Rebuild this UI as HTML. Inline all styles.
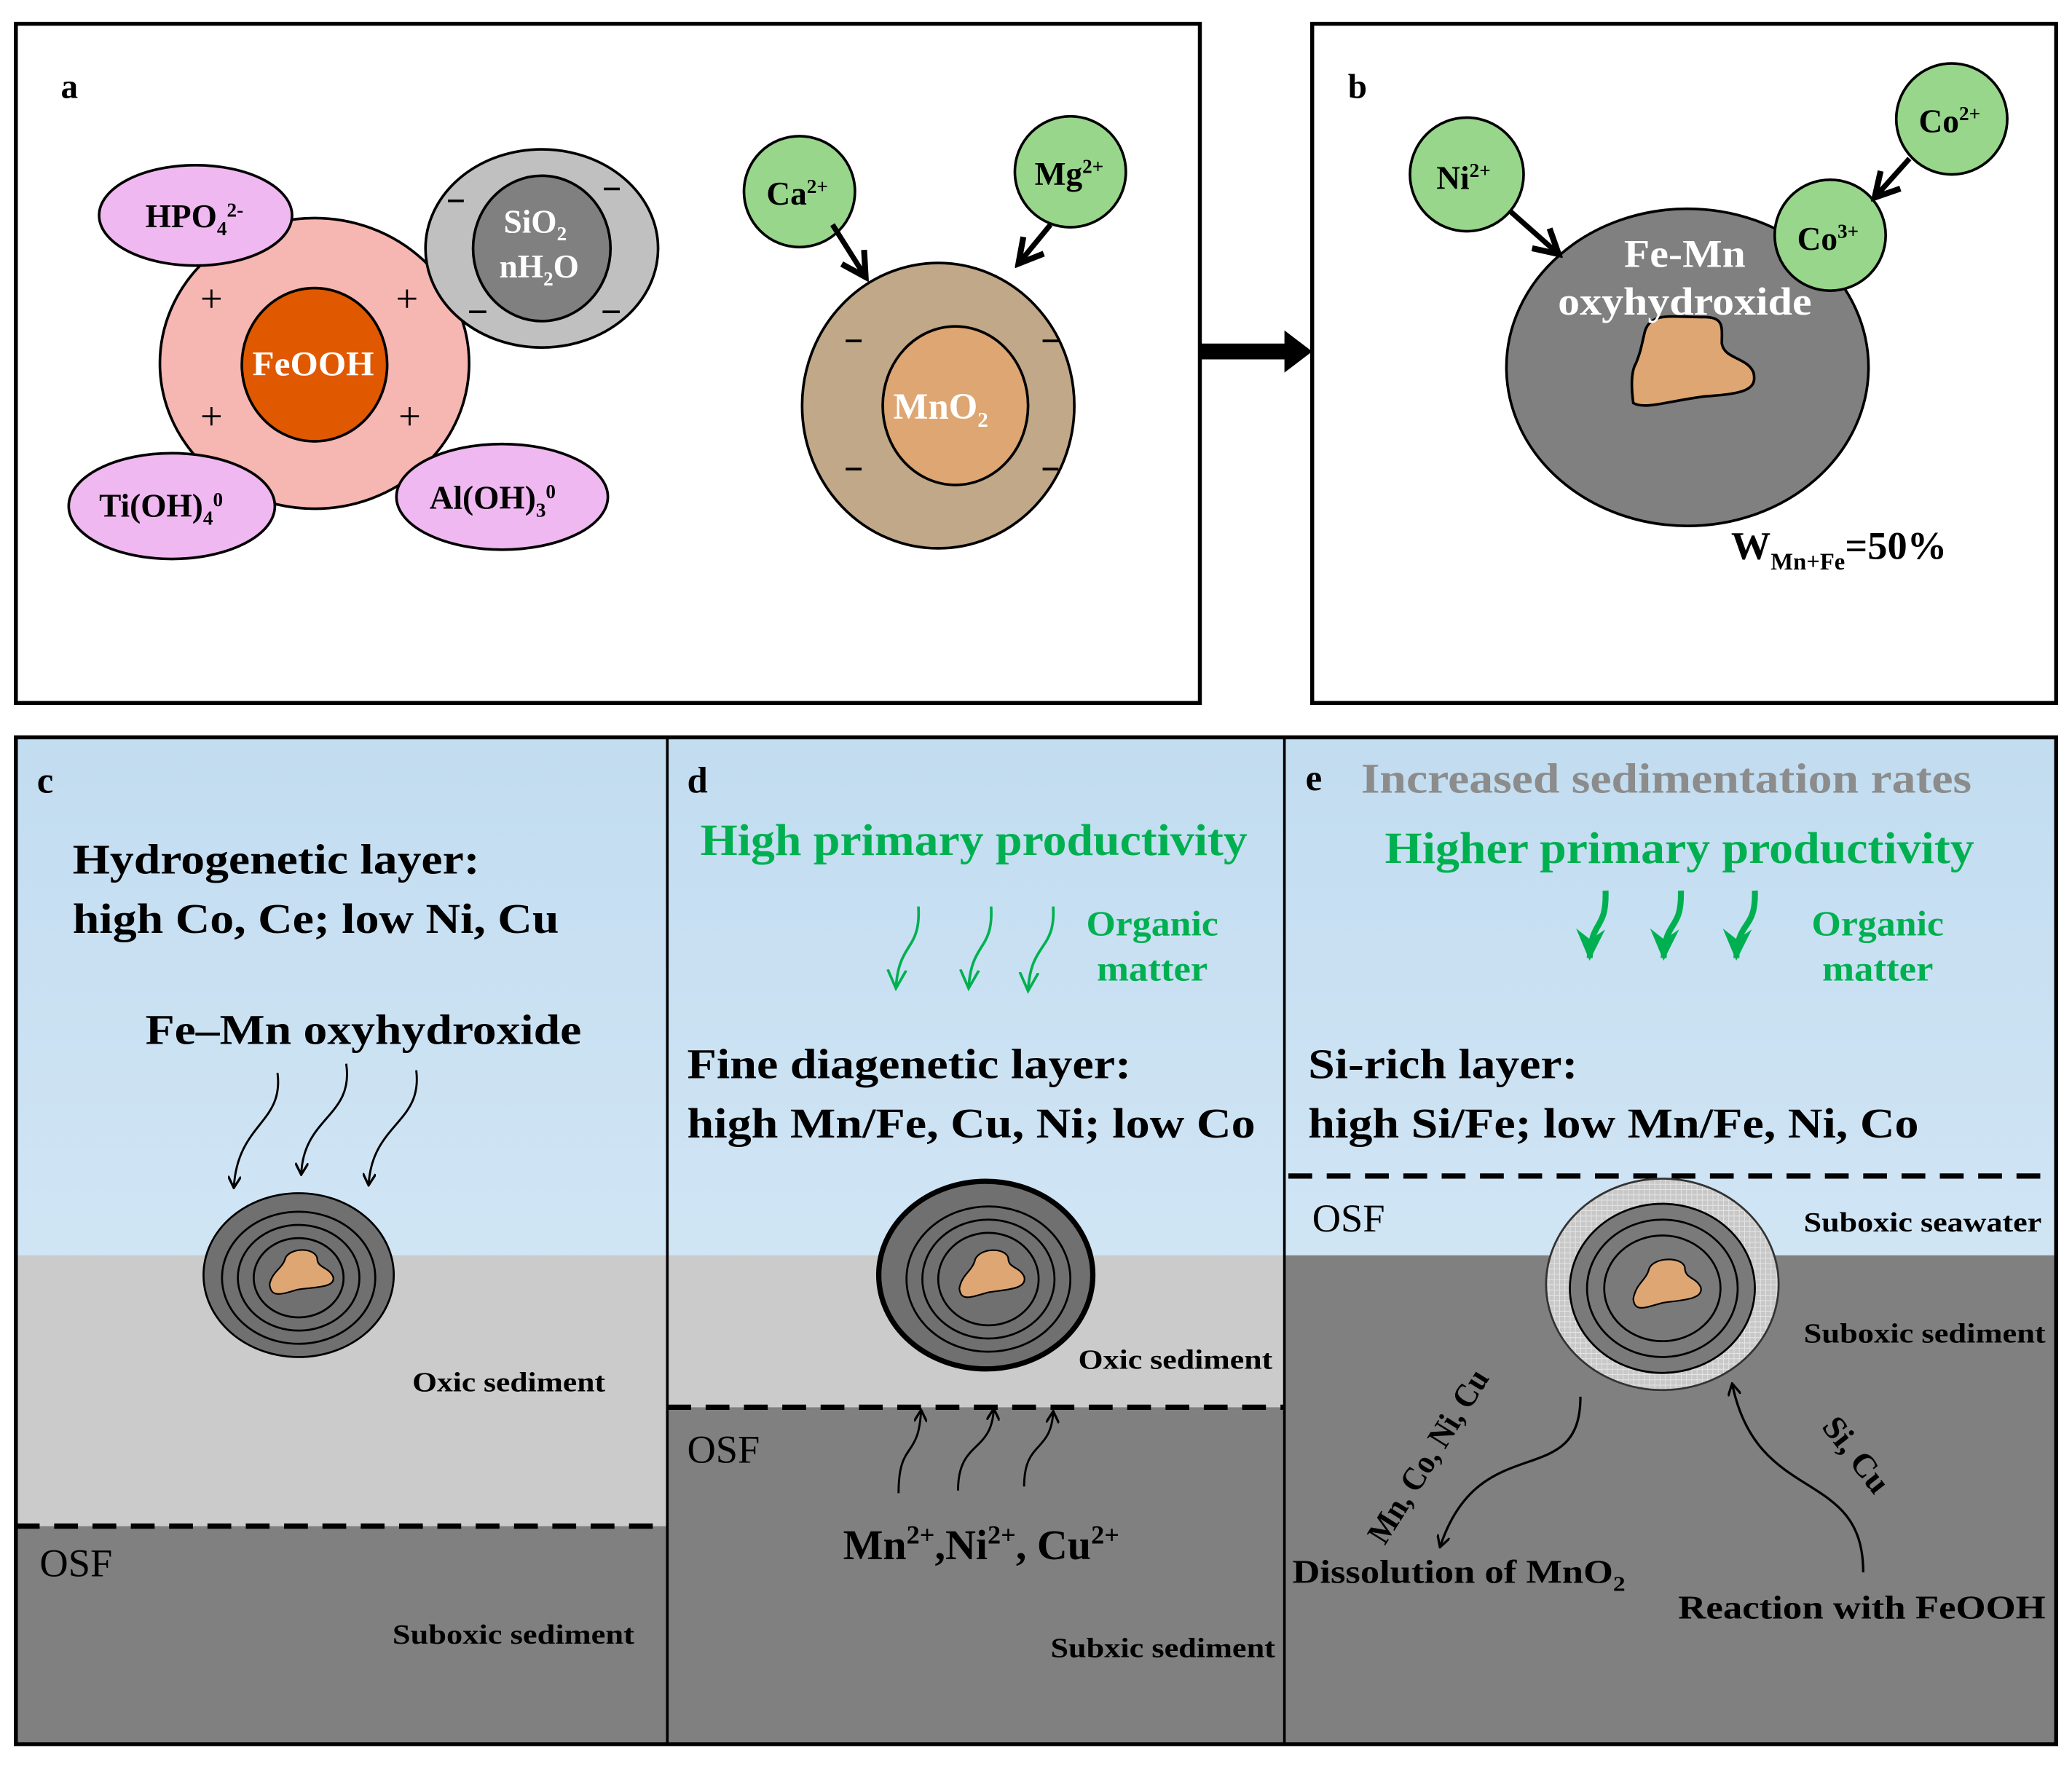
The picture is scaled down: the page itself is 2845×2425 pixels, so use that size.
<!DOCTYPE html>
<html><head><meta charset="utf-8"><style>
html,body{margin:0;padding:0;background:#fff}
svg{display:block}
text{font-family:"Liberation Serif","Times New Roman",serif;font-weight:bold}
text.n{font-weight:normal}
</style></head><body>
<svg width="2845" height="2425" viewBox="0 0 1568 1336.5" preserveAspectRatio="none" xmlns="http://www.w3.org/2000/svg">
<defs>
<linearGradient id="sky" x1="0" y1="0" x2="0" y2="1">
<stop offset="0" stop-color="#c2dcf0"/><stop offset="1" stop-color="#deeef9"/>
</linearGradient>
<pattern id="hatch" width="4" height="4" patternUnits="userSpaceOnUse">
<rect width="4" height="4" fill="#c8c8c8"/><path d="M0 0H4M0 0V4" stroke="#e6e6e6" stroke-width="1"/>
</pattern>
<marker id="ah" markerWidth="10" markerHeight="10" refX="8" refY="5" orient="auto" markerUnits="userSpaceOnUse" viewBox="0 0 10 10">
<path d="M0 0L9 5L0 10" fill="none" stroke="#000" stroke-width="1.8"/>
</marker>
<marker id="ahb" markerWidth="24" markerHeight="24" refX="18" refY="12" orient="auto" markerUnits="userSpaceOnUse" viewBox="0 0 24 24">
<path d="M2 2L20 12L2 22" fill="none" stroke="#000" stroke-width="4.5"/>
</marker>
<marker id="ahg" markerWidth="16" markerHeight="16" refX="14" refY="8" orient="auto" markerUnits="userSpaceOnUse" viewBox="0 0 16 16">
<path d="M0 1L14 8L0 15" fill="none" stroke="#00b050" stroke-width="2"/>
</marker>
<marker id="ahG" markerWidth="26" markerHeight="26" refX="22" refY="13" orient="auto" markerUnits="userSpaceOnUse" viewBox="0 0 26 26">
<path d="M0 2L24 13L0 24L8 13Z" fill="#00b050"/>
</marker>
</defs>
<rect width="1568" height="1336.5" fill="#fff"/>

<!-- Panel a -->
<rect x="12" y="18" width="896" height="514" fill="#fff" stroke="#000" stroke-width="3"/>
<text x="46" y="74" font-size="26">a</text>
<ellipse cx="238" cy="275" rx="117" ry="110" fill="#f6b6b2" stroke="#000" stroke-width="2"/>
<ellipse cx="238" cy="276" rx="55" ry="58" fill="#e05800" stroke="#000" stroke-width="2"/>
<text x="237" y="284" font-size="26" fill="#fff" text-anchor="middle" textLength="92" lengthAdjust="spacingAndGlyphs">FeOOH</text>
<ellipse cx="148" cy="163" rx="73" ry="38" fill="#f0b8f0" stroke="#000" stroke-width="2"/>
<text x="110" y="172" font-size="25">HPO<tspan font-size="15" dy="6">4</tspan><tspan font-size="15" dy="-14">2-</tspan></text>
<ellipse cx="410" cy="188" rx="88" ry="75" fill="#c0c0c0" stroke="#000" stroke-width="2"/>
<ellipse cx="410" cy="188" rx="52" ry="55" fill="#808080" stroke="#000" stroke-width="2"/>
<text x="405" y="176" font-size="25" fill="#fff" text-anchor="middle">SiO<tspan font-size="15" dy="6">2</tspan></text>
<text x="408" y="210" font-size="25" fill="#fff" text-anchor="middle">nH<tspan font-size="15" dy="6">2</tspan><tspan dy="-6">O</tspan></text>
<ellipse cx="130" cy="383" rx="78" ry="40" fill="#f0b8f0" stroke="#000" stroke-width="2"/>
<text x="75" y="391" font-size="25">Ti(OH)<tspan font-size="15" dy="6">4</tspan><tspan font-size="15" dy="-14">0</tspan></text>
<ellipse cx="380" cy="376" rx="80" ry="40" fill="#f0b8f0" stroke="#000" stroke-width="2"/>
<text x="325" y="385" font-size="25">Al(OH)<tspan font-size="15" dy="6">3</tspan><tspan font-size="15" dy="-14">0</tspan></text>
<g font-size="30" text-anchor="middle">
<text class="n" x="160" y="236">+</text><text class="n" x="308" y="236">+</text><text class="n" x="160" y="325">+</text><text class="n" x="310" y="325">+</text>
</g>
<g stroke="#000" stroke-width="2">
<path d="M339 152h12M457 143h12M355 236h13M456 236h13"/>
</g>
<circle cx="605" cy="145" r="42" fill="#98d68c" stroke="#000" stroke-width="2"/>
<text x="580" y="155" font-size="25">Ca<tspan font-size="15" dy="-9">2+</tspan></text>
<circle cx="810" cy="130" r="42" fill="#98d68c" stroke="#000" stroke-width="2"/>
<text x="783" y="140" font-size="25">Mg<tspan font-size="15" dy="-9">2+</tspan></text>
<ellipse cx="710" cy="307" rx="103" ry="108" fill="#c0a888" stroke="#000" stroke-width="2"/>
<ellipse cx="723" cy="307" rx="55" ry="60" fill="#dea672" stroke="#000" stroke-width="2"/>
<text x="676" y="317" font-size="28" fill="#fff">MnO<tspan font-size="16" dy="6">2</tspan></text>
<path d="M640 258h12M789 258h12M640 355h12M789 355h12" stroke="#000" stroke-width="2"/>
<path d="M630 170L654 208" stroke="#000" stroke-width="4" marker-end="url(#ahb)"/>
<path d="M795 170L772 198" stroke="#000" stroke-width="4" marker-end="url(#ahb)"/>
<path d="M908 266H975" stroke="#000" stroke-width="12"/>
<path d="M972 250L993 266L972 282Z" fill="#000"/>

<!-- Panel b -->
<rect x="993" y="18" width="563" height="514" fill="#fff" stroke="#000" stroke-width="3"/>
<text x="1020" y="74" font-size="26">b</text>
<ellipse cx="1277" cy="278" rx="137" ry="120" fill="#808080" stroke="#000" stroke-width="2"/>
<path d="M1245 250C1242 262 1242 265 1238 275C1235 280 1234 290 1236 305C1245 310 1260 304 1290 300C1320 298 1330 295 1327 282C1322 270 1305 272 1303 260C1303 248 1305 240 1290 240C1265 240 1250 236 1245 250Z" fill="#dea672" stroke="#000" stroke-width="2"/>
<text x="1275" y="202" font-size="30" fill="#fff" text-anchor="middle" textLength="92" lengthAdjust="spacingAndGlyphs">Fe-Mn</text>
<text x="1275" y="238" font-size="30" fill="#fff" text-anchor="middle" textLength="192" lengthAdjust="spacingAndGlyphs">oxyhydroxide</text>
<circle cx="1110" cy="132" r="43" fill="#98d68c" stroke="#000" stroke-width="2"/>
<text x="1087" y="143" font-size="25">Ni<tspan font-size="15" dy="-9">2+</tspan></text>
<circle cx="1477" cy="90" r="42" fill="#98d68c" stroke="#000" stroke-width="2"/>
<text x="1452" y="100" font-size="25">Co<tspan font-size="15" dy="-9">2+</tspan></text>
<circle cx="1385" cy="178" r="42" fill="#98d68c" stroke="#000" stroke-width="2"/>
<text x="1360" y="189" font-size="25">Co<tspan font-size="15" dy="-9">3+</tspan></text>
<path d="M1143 160L1178 191" stroke="#000" stroke-width="4" marker-end="url(#ahb)"/>
<path d="M1445 120L1420 148" stroke="#000" stroke-width="4" marker-end="url(#ahb)"/>
<text x="1310" y="423" font-size="30">W<tspan font-size="18" dy="8">Mn+Fe</tspan><tspan dy="-8">=50%</tspan></text>

<!-- Bottom panels backgrounds -->
<rect x="12" y="558" width="1544" height="762" fill="url(#sky)"/>
<rect x="12" y="950" width="493" height="205" fill="#cbcbcb"/>
<rect x="12" y="1155" width="493" height="165" fill="#808080"/>
<rect x="505" y="950" width="467" height="115" fill="#cbcbcb"/>
<rect x="505" y="1065" width="467" height="255" fill="#808080"/>
<rect x="972" y="950" width="584" height="370" fill="#808080"/>
<rect x="12" y="558" width="1544" height="762" fill="none" stroke="#000" stroke-width="3"/>
<path d="M505 558V1320M972 558V1320" stroke="#000" stroke-width="2"/>

<!-- c -->
<text x="28" y="600" font-size="28">c</text>
<text x="55" y="661" font-size="32" textLength="308" lengthAdjust="spacingAndGlyphs">Hydrogenetic layer:</text>
<text x="55" y="706" font-size="32" textLength="368" lengthAdjust="spacingAndGlyphs">high Co, Ce; low Ni, Cu</text>
<text x="110" y="790" font-size="32" textLength="330" lengthAdjust="spacingAndGlyphs">Fe–Mn oxyhydroxide</text>
<g fill="none" stroke="#000" stroke-width="1.6">
<path d="M210 812C215 850 180 850 177 898" marker-end="url(#ah)"/>
<path d="M262 805C268 845 230 845 228 888" marker-end="url(#ah)"/>
<path d="M315 810C320 850 282 850 279 896" marker-end="url(#ah)"/>
</g>
<g>
<ellipse cx="226" cy="965" rx="72" ry="62" fill="#707070" stroke="#000" stroke-width="1.5"/>
<ellipse cx="226" cy="967" rx="58" ry="50" fill="none" stroke="#000" stroke-width="1.5"/>
<ellipse cx="226" cy="967" rx="46" ry="40" fill="none" stroke="#000" stroke-width="1.5"/>
<ellipse cx="226" cy="967" rx="34" ry="30" fill="none" stroke="#000" stroke-width="1.5"/>
<path d="M216 952C214 960 206 962 204 972C205 982 212 980 225 976C236 974 255 975 252 966C248 958 240 960 240 952C238 944 220 944 216 952Z" fill="#dea672" stroke="#000" stroke-width="1.2"/>
</g>
<text x="312" y="1053" font-size="21" textLength="146" lengthAdjust="spacingAndGlyphs">Oxic sediment</text>
<path d="M12 1155H505" stroke="#000" stroke-width="4" stroke-dasharray="18 11"/>
<text class="n" x="30" y="1193" font-size="30">OSF</text>
<text x="297" y="1244" font-size="21" textLength="183" lengthAdjust="spacingAndGlyphs">Suboxic sediment</text>

<!-- d -->
<text x="520" y="600" font-size="28">d</text>
<text x="530" y="647" font-size="34" fill="#00b050" textLength="414" lengthAdjust="spacingAndGlyphs">High primary productivity</text>
<g fill="none" stroke="#00b050" stroke-width="2">
<path d="M695 686C697 720 680 712 678 748" marker-end="url(#ahg)"/>
<path d="M750 686C752 720 735 712 733 748" marker-end="url(#ahg)"/>
<path d="M797 686C799 720 780 712 778 750" marker-end="url(#ahg)"/>
</g>
<text x="872" y="708" font-size="27" fill="#00b050" text-anchor="middle" textLength="100" lengthAdjust="spacingAndGlyphs">Organic</text>
<text x="872" y="742" font-size="27" fill="#00b050" text-anchor="middle" textLength="84" lengthAdjust="spacingAndGlyphs">matter</text>
<text x="520" y="816" font-size="32" textLength="336" lengthAdjust="spacingAndGlyphs">Fine diagenetic layer:</text>
<text x="520" y="861" font-size="32" textLength="430" lengthAdjust="spacingAndGlyphs">high Mn/Fe, Cu, Ni; low Co</text>
<g>
<ellipse cx="746" cy="965" rx="81" ry="71" fill="#707070" stroke="#000" stroke-width="4"/>
<ellipse cx="748" cy="968" rx="62" ry="55" fill="none" stroke="#000" stroke-width="1.5"/>
<ellipse cx="748" cy="968" rx="50" ry="45" fill="none" stroke="#000" stroke-width="1.5"/>
<ellipse cx="748" cy="968" rx="38" ry="35" fill="none" stroke="#000" stroke-width="1.5"/>
<path d="M738 953C736 962 728 964 726 975C727 985 734 982 748 978C760 976 778 976 775 966C771 958 763 960 763 952C761 944 742 944 738 953Z" fill="#dea672" stroke="#000" stroke-width="1.2"/>
</g>
<text x="816" y="1036" font-size="21" textLength="147" lengthAdjust="spacingAndGlyphs">Oxic sediment</text>
<path d="M505 1065H972" stroke="#000" stroke-width="4" stroke-dasharray="18 11"/>
<text class="n" x="520" y="1107" font-size="30">OSF</text>
<g fill="none" stroke="#000" stroke-width="1.6">
<path d="M680 1130C680 1090 695 1105 697 1068" marker-end="url(#ah)"/>
<path d="M725 1128C725 1090 750 1100 752 1067" marker-end="url(#ah)"/>
<path d="M775 1125C775 1090 795 1100 797 1069" marker-end="url(#ah)"/>
</g>
<text x="638" y="1180" font-size="32">Mn<tspan font-size="20" dy="-12">2+</tspan><tspan dy="12">,Ni</tspan><tspan font-size="20" dy="-12">2+</tspan><tspan dy="12">, Cu</tspan><tspan font-size="20" dy="-12">2+</tspan></text>
<text x="795" y="1254" font-size="21" textLength="170" lengthAdjust="spacingAndGlyphs">Subxic sediment</text>

<!-- e -->
<text x="988" y="598" font-size="28">e</text>
<text x="1030" y="600" font-size="32" fill="#8c8c8c" textLength="462" lengthAdjust="spacingAndGlyphs">Increased sedimentation rates</text>
<text x="1048" y="653" font-size="34" fill="#00b050" textLength="446" lengthAdjust="spacingAndGlyphs">Higher primary productivity</text>
<g fill="none" stroke="#00b050" stroke-width="4.5">
<path d="M1215 674C1216 705 1204 695 1203 725" marker-end="url(#ahG)"/>
<path d="M1272 674C1273 705 1260 695 1259 725" marker-end="url(#ahG)"/>
<path d="M1328 674C1329 705 1315 695 1314 725" marker-end="url(#ahG)"/>
</g>
<text x="1421" y="708" font-size="27" fill="#00b050" text-anchor="middle" textLength="100" lengthAdjust="spacingAndGlyphs">Organic</text>
<text x="1421" y="742" font-size="27" fill="#00b050" text-anchor="middle" textLength="84" lengthAdjust="spacingAndGlyphs">matter</text>
<text x="990" y="816" font-size="32" textLength="204" lengthAdjust="spacingAndGlyphs">Si-rich layer:</text>
<text x="990" y="861" font-size="32" textLength="462" lengthAdjust="spacingAndGlyphs">high Si/Fe; low Mn/Fe, Ni, Co</text>
<path d="M975 890H1552" stroke="#000" stroke-width="4" stroke-dasharray="18 11"/>
<text class="n" x="993" y="932" font-size="30">OSF</text>
<text x="1365" y="932" font-size="21" textLength="180" lengthAdjust="spacingAndGlyphs">Suboxic seawater</text>
<text x="1365" y="1016" font-size="21" textLength="183" lengthAdjust="spacingAndGlyphs">Suboxic sediment</text>
<g>
<ellipse cx="1258" cy="972" rx="88" ry="80" fill="url(#hatch)" stroke="#333" stroke-width="1.5"/>
<ellipse cx="1258" cy="975" rx="70" ry="64" fill="#7a7a7a" stroke="#000" stroke-width="1.5"/>
<ellipse cx="1258" cy="975" rx="57" ry="52" fill="none" stroke="#000" stroke-width="1.5"/>
<ellipse cx="1258" cy="975" rx="44" ry="40" fill="none" stroke="#000" stroke-width="1.5"/>
<path d="M1248 960C1246 969 1238 971 1236 983C1237 993 1244 990 1258 986C1270 984 1290 984 1287 974C1283 966 1275 968 1275 959C1273 951 1252 951 1248 960Z" fill="#dea672" stroke="#000" stroke-width="1.2"/>
</g>
<g fill="none" stroke="#000" stroke-width="1.8">
<path d="M1196 1057C1196 1130 1120 1080 1090 1170" marker-end="url(#ah)"/>
<path d="M1410 1190C1410 1110 1330 1140 1311 1048" marker-end="url(#ah)"/>
</g>
<text x="0" y="0" font-size="25" transform="translate(1048 1170) rotate(-58)" textLength="150" lengthAdjust="spacingAndGlyphs">Mn, Co, Ni, Cu</text>
<text x="0" y="0" font-size="25" transform="translate(1378 1080) rotate(52)" textLength="66" lengthAdjust="spacingAndGlyphs">Si, Cu</text>
<text x="978" y="1198" font-size="25" textLength="252" lengthAdjust="spacingAndGlyphs">Dissolution of MnO<tspan font-size="16" dy="6">2</tspan></text>
<text x="1270" y="1225" font-size="25" textLength="278" lengthAdjust="spacingAndGlyphs">Reaction with FeOOH</text>
</svg>
</body></html>
